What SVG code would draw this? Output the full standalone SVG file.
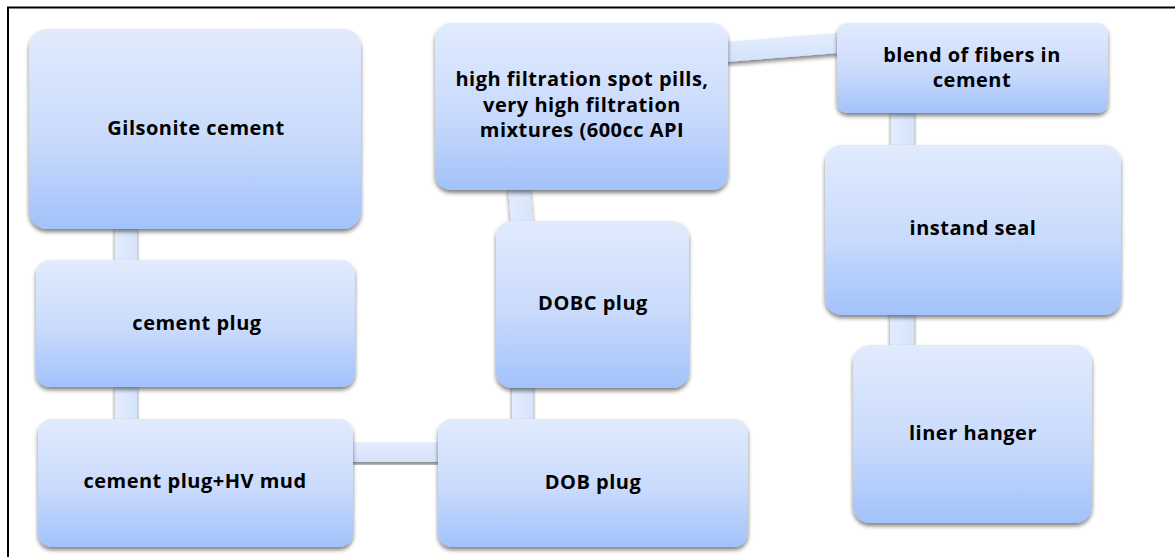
<svg xmlns="http://www.w3.org/2000/svg" width="1175" height="557" viewBox="0 0 1175 557">
  <defs>
    <linearGradient id="nodeFill" x1="0" y1="0" x2="0" y2="1">
      <stop offset="0" stop-color="#e1ebfd"/>
      <stop offset="0.55" stop-color="#c9dafc"/>
      <stop offset="1" stop-color="#a2c2fa"/>
    </linearGradient>
    <linearGradient id="barFill" x1="0" y1="0" x2="0" y2="1">
      <stop offset="0" stop-color="#e4edfd"/>
      <stop offset="1" stop-color="#d2e1fb"/>
    </linearGradient>
    <linearGradient id="barFillH" x1="0" y1="0" x2="1" y2="0">
      <stop offset="0" stop-color="#e2ecfd"/>
      <stop offset="1" stop-color="#d6e4fc"/>
    </linearGradient>
    <filter id="shadow" x="-10%" y="-10%" width="120%" height="125%">
      <feGaussianBlur in="SourceAlpha" stdDeviation="2"/>
      <feOffset dx="0" dy="3" result="b"/>
      <feComponentTransfer><feFuncA type="linear" slope="0.5"/></feComponentTransfer>
      <feMerge><feMergeNode/><feMergeNode in="SourceGraphic"/></feMerge>
    </filter>
  </defs>
  <style>
    .node { fill: url(#nodeFill); filter: url(#shadow); }
    .bar { fill: url(#barFillH); filter: url(#shadow); }
    .label { font-family: "Open Sans", "Noto Sans", sans-serif; font-weight: bold; font-size: 20px; letter-spacing: 0.5px; fill: #000; text-anchor: middle; }
    .frame { stroke: #000; stroke-width: 2; fill: none; }
  </style>

  <rect width="1175" height="557" fill="#fff"/>
  <path class="frame" d="M1175 7.5 H8 V557"/>

  <!-- connecting bars -->
  <g id="connectors">
    <rect class="bar" x="115" y="226" width="22" height="36"/>
    <rect class="bar" x="115" y="385" width="22" height="36"/>
    <rect x="351" y="442" width="89" height="20" fill="url(#barFill)" filter="url(#shadow)"/>
    <polygon class="bar" points="508,187 530,187 533,223 511,223"/>
    <rect class="bar" x="512" y="385" width="21" height="36"/>
    <polygon points="726,42 839,33 839,53 726,62" fill="url(#barFill)" filter="url(#shadow)"/>
    <rect class="bar" x="891" y="110" width="23" height="37"/>
    <rect class="bar" x="890" y="312" width="24" height="35"/>
  </g>

  <g id="gilsonite-cement">
    <rect class="node" x="29" y="29" width="332" height="200" rx="18"/>
    <text class="label" x="196" y="135">Gilsonite cement</text>
  </g>
  <g id="cement-plug">
    <rect class="node" x="36" y="260" width="319" height="127" rx="14"/>
    <text class="label" x="197" y="330">cement plug</text>
  </g>
  <g id="cement-plug-hv-mud">
    <rect class="node" x="38" y="419" width="315" height="128" rx="14"/>
    <text class="label" x="195" y="488">cement plug+HV mud</text>
  </g>
  <g id="dob-plug">
    <rect class="node" x="438" y="419" width="310" height="128" rx="14"/>
    <text class="label" x="593" y="489">DOB plug</text>
  </g>
  <g id="dobc-plug">
    <rect class="node" x="496" y="221" width="193" height="167" rx="16"/>
    <text class="label" x="593" y="310">DOBC plug</text>
  </g>
  <g id="high-filtration">
    <rect class="node" x="435" y="23" width="293" height="167" rx="16"/>
    <text class="label" x="582" y="86">high filtration spot pills,</text>
    <text class="label" x="582" y="112">very high filtration</text>
    <text class="label" x="582" y="137">mixtures (600cc API</text>
  </g>
  <g id="blend-of-fibers">
    <rect class="node" x="837" y="23" width="271" height="90" rx="10"/>
    <text class="label" x="972" y="62">blend of fibers in</text>
    <text class="label" x="972" y="87">cement</text>
  </g>
  <g id="instand-seal">
    <rect class="node" x="825" y="145" width="296" height="170" rx="17"/>
    <text class="label" x="973" y="235">instand seal</text>
  </g>
  <g id="liner-hanger">
    <rect class="node" x="853" y="345" width="239" height="178" rx="17"/>
    <text class="label" x="973" y="440">liner hanger</text>
  </g>
</svg>
